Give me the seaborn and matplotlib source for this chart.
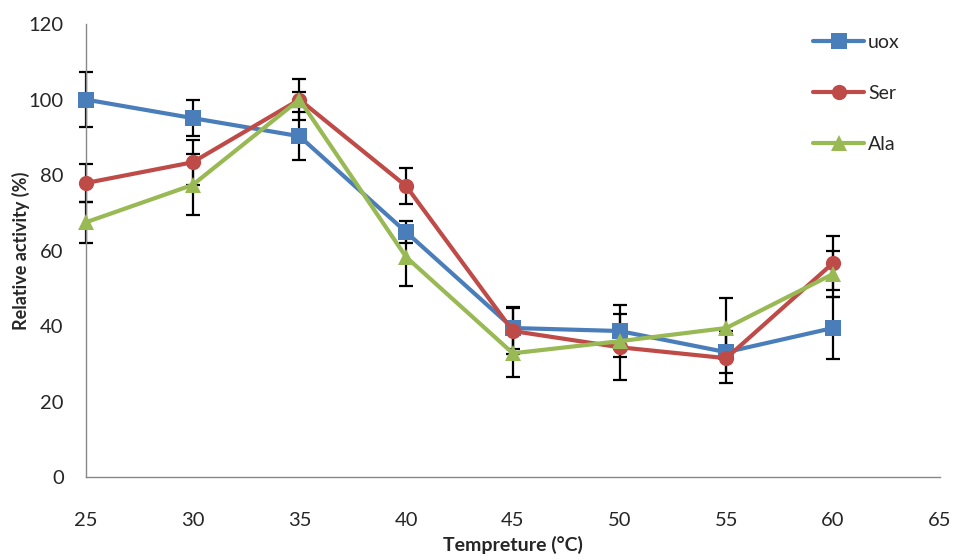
import matplotlib
matplotlib.use("Agg")
import matplotlib.pyplot as plt
import seaborn as sns
import pandas as pd

temps = [25, 30, 35, 40, 45, 50, 55, 60]
uox = [100, 95.1, 90.3, 64.9, 39.5, 38.7, 33.1, 39.5]
uox_err = [7.3, 4.8, 6.3, 3.0, 5.6, 6.9, 5.5, 8.1]
ser = [77.9, 83.4, 100, 77.1, 38.7, 34.4, 31.5, 56.7]
ser_err = [5.0, 6.0, 5.5, 4.7, 6.0, 8.7, 6.5, 7.2]
ala = [67.5, 77.4, 100, 58.3, 32.8, 36.0, 39.5, 53.8]
ala_err = [5.4, 8.1, 2.0, 7.8, 6.4, 2.0, 8.0, 6.0]

series_names = ["uox", "Ser", "Ala"]
x_ticks = [25, 30, 35, 40, 45, 50, 55, 60, 65]
y_ticks = [0, 20, 40, 60, 80, 100, 120]

sns.set_style("white")
plt.rcParams["font.family"] = ["Lato", "DejaVu Sans"]

rows = []
for name, vals in zip(series_names, [uox, ser, ala]):
    for t, v in zip(temps, vals):
        rows.append({"Temp": t, "Activity": v, "Series": name})
df = pd.DataFrame(rows)

colors = {"uox": "#4A7EBB", "Ser": "#BE4B48", "Ala": "#98B954"}
markers = {"uox": "s", "Ser": "o", "Ala": "^"}

fig = plt.figure(figsize=(9.55, 5.6), dpi=100)
ax = fig.add_axes([0.090, 0.148, 0.894, 0.809])

for name, vals, errs in zip(series_names, [uox, ser, ala], [uox_err, ser_err, ala_err]):
    eb = ax.errorbar(temps, vals, yerr=errs, fmt="none", ecolor="black",
                     elinewidth=1.6, capsize=5, capthick=1.6, zorder=1)
    for art in eb.lines[1]:
        art.set_clip_on(False)
    for art in eb.lines[2]:
        art.set_clip_on(False)

sns.lineplot(data=df, x="Temp", y="Activity", hue="Series", style="Series",
             palette=colors, markers=markers, dashes=False, linewidth=3,
             markersize=11, markeredgewidth=0, ax=ax, zorder=3, legend=True)
for ln in ax.lines:
    ln.set_clip_on(False)

ax.set_xlim(25, 65)
ax.set_ylim(0, 120)
ax.set_xticks(x_ticks)
ax.set_yticks(y_ticks)
ax.tick_params(axis="x", length=0, pad=25, labelsize=14.5)
ax.tick_params(axis="y", length=0, pad=16, labelsize=14.5)

for s in ["top", "right"]:
    ax.spines[s].set_visible(False)
for s in ["left", "bottom"]:
    ax.spines[s].set_color("#888888")
    ax.spines[s].set_linewidth(1)

ax.set_xlabel("Tempreture (°C)", fontsize=14, fontweight="bold", labelpad=5)
ax.set_ylabel("Relative activity (%)", fontsize=13, fontweight="bold")
ax.yaxis.set_label_coords(-0.066, 0.5)

handles, labels = ax.get_legend_handles_labels()
leg = ax.legend(handles, labels, loc="upper left", bbox_to_anchor=(0.843, 0.995),
                frameon=False, fontsize=14, handlelength=2.6, handletextpad=0.2,
                labelspacing=1.75, borderaxespad=0)

fig.savefig("out.png", dpi=100)
